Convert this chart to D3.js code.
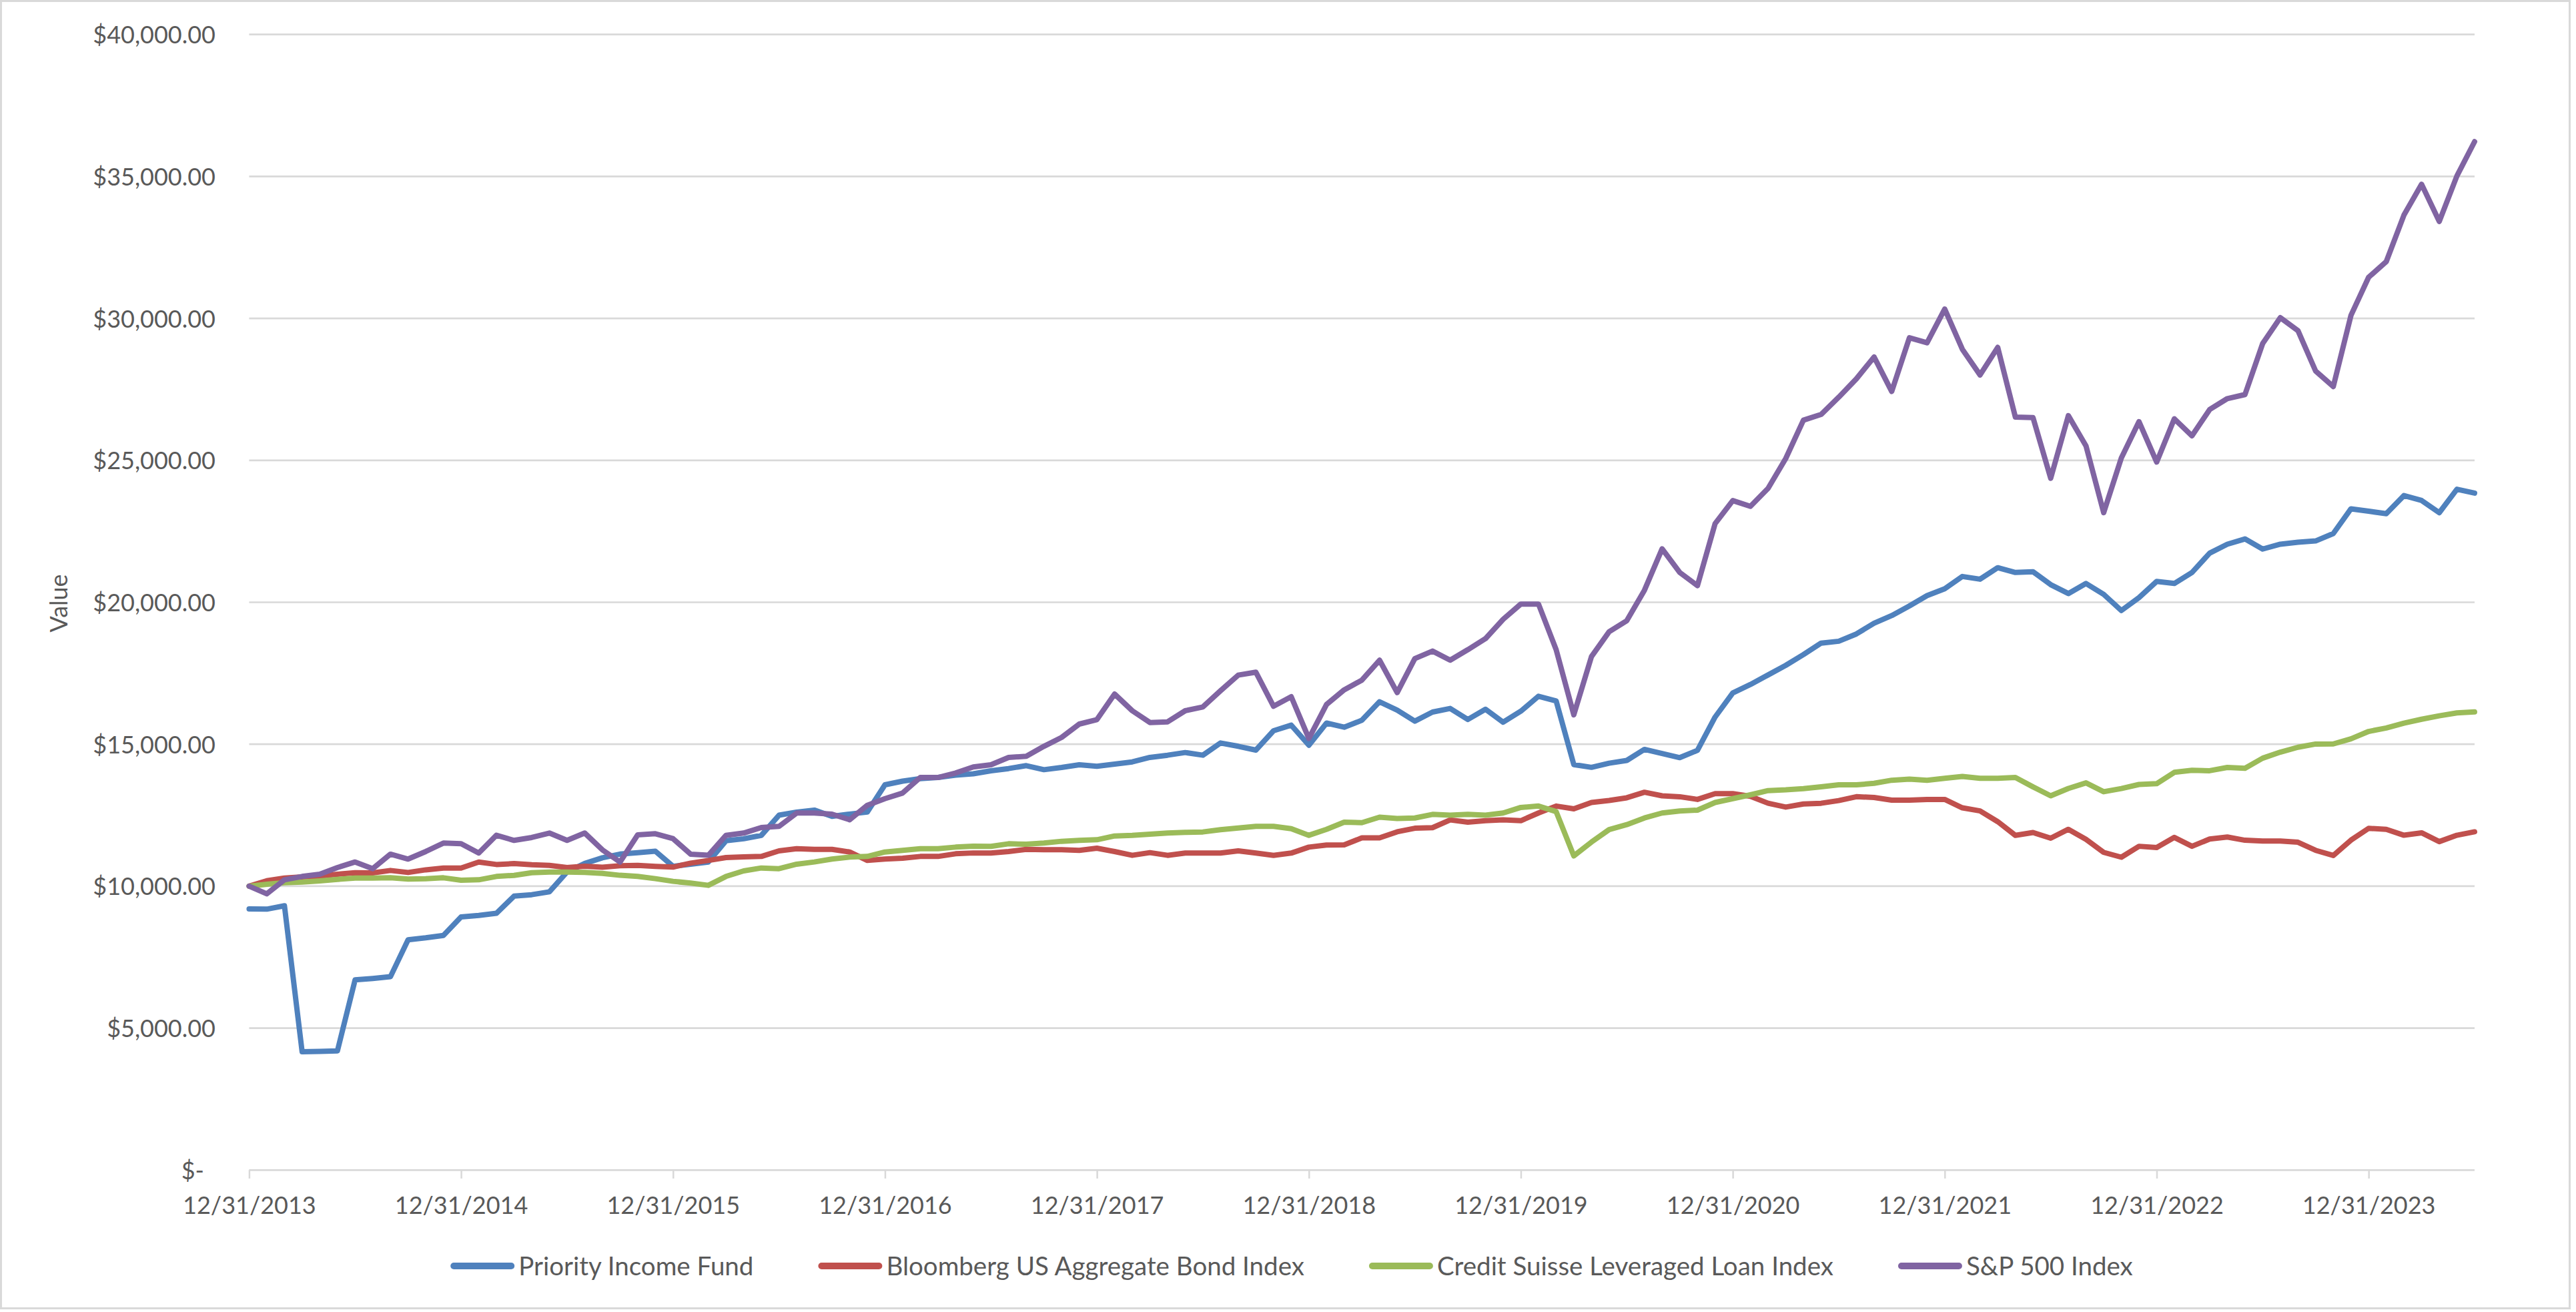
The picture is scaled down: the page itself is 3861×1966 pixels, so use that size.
<!DOCTYPE html>
<html>
<head>
<meta charset="utf-8">
<script src="https://cdn.jsdelivr.net/npm/d3@7"></script>
<style>
html, body { margin: 0; padding: 0; background: #ffffff; }
svg { display: block; }
text { font-family: Lato, "Open Sans", "DejaVu Sans", sans-serif; fill: #595959; }
</style>
</head>
<body>
<svg id="chart" width="3861" height="1966"></svg>
<script>
// ---------------- DATA ----------------
const seriesNames = [
  "Priority Income Fund",
  "Bloomberg US Aggregate Bond Index",
  "Credit Suisse Leveraged Loan Index",
  "S&P 500 Index"
];
const seriesColors = ["#4F81BD", "#C0504D", "#9BBB59", "#8064A2"];

// month-end values, 12/31/2013 .. 6/30/2024
const priorityIncomeFund = [
  9200, 9190, 9310, 4170, 4180, 4200, 6700, 6750, 6810, 8110, 8180, 8265,
  8915, 8970, 9045, 9650, 9700, 9800, 10500, 10800, 11000, 11130, 11180, 11230,
  10700, 10775, 10850, 11600, 11670, 11790, 12500, 12610, 12680, 12460, 12540, 12610,
  13570, 13700, 13790, 13830, 13910, 13960, 14064, 14143, 14245, 14103, 14182, 14276,
  14221, 14299, 14378, 14535, 14613, 14707, 14613, 15044, 14927, 14793, 15475, 15671,
  14966, 15745, 15600, 15843, 16495, 16203, 15813, 16134, 16261, 15872, 16232, 15775,
  16164, 16690, 16524, 14283, 14186, 14332, 14429, 14819, 14673, 14527, 14784, 15957,
  16807, 17104, 17441, 17779, 18156, 18561, 18628, 18885, 19263, 19532, 19870, 20234,
  20477, 20909, 20814, 21219, 21050, 21077, 20621, 20307, 20663, 20279, 19709, 20165,
  20735, 20663, 21049, 21732, 22046, 22231, 21875, 22046, 22117, 22160, 22420, 23293,
  23207, 23121, 23759, 23586, 23155, 23983, 23845
];
const bloombergAgg = [
  10000, 10190, 10286, 10325, 10357, 10420, 10475, 10467, 10553, 10482, 10576, 10639,
  10639, 10850, 10764, 10795, 10756, 10733, 10655, 10702, 10670, 10718, 10734, 10696,
  10671, 10812, 10906, 11008, 11031, 11047, 11243, 11322, 11298, 11298, 11204, 10906,
  10953, 10984, 11047, 11047, 11141, 11170, 11165, 11220, 11298, 11282, 11282, 11259,
  11337, 11220, 11087, 11181, 11087, 11165, 11165, 11165, 11243, 11165, 11087, 11165,
  11376, 11450, 11457, 11700, 11700, 11915, 12041, 12061, 12334, 12256, 12305, 12334,
  12305, 12578, 12822, 12724, 12948, 13017, 13114, 13309, 13182, 13150, 13056, 13259,
  13259, 13164, 12921, 12786, 12894, 12921, 13016, 13151, 13124, 13029, 13029, 13056,
  13056, 12759, 12651, 12273, 11790, 11890, 11690, 12003, 11647, 11191, 11020, 11405,
  11362, 11718, 11405, 11661, 11732, 11618, 11590, 11590, 11547, 11262, 11080, 11622,
  12036, 12001, 11794, 11880, 11570, 11794, 11915
];
const creditSuisseLoan = [
  10000, 10067, 10122, 10146, 10185, 10240, 10287, 10287, 10295, 10248, 10264, 10295,
  10209, 10224, 10342, 10381, 10475, 10499, 10499, 10483, 10450, 10383, 10343, 10265,
  10171, 10108, 10030, 10343, 10539, 10641, 10617, 10775, 10853, 10955, 11025, 11047,
  11204, 11259, 11322, 11322, 11376, 11410, 11401, 11494, 11479, 11518, 11581, 11612,
  11635, 11769, 11792, 11832, 11871, 11894, 11910, 11988, 12051, 12106, 12106, 12027,
  11792, 12000, 12256, 12237, 12432, 12383, 12402, 12529, 12500, 12529, 12500, 12578,
  12773, 12822, 12627, 11067, 11554, 11993, 12168, 12402, 12578, 12650, 12677, 12948,
  13083, 13218, 13366, 13393, 13434, 13501, 13569, 13569, 13623, 13731, 13771, 13731,
  13798, 13866, 13798, 13798, 13830, 13497, 13184, 13440, 13639, 13326, 13440, 13582,
  13611, 14010, 14081, 14067, 14181, 14152, 14508, 14722, 14893, 15007, 15010, 15191,
  15450, 15571, 15743, 15881, 16002, 16105, 16140
];
const sp500 = [
  10000, 9730, 10225, 10343, 10421, 10656, 10852, 10617, 11127, 10955, 11221, 11519,
  11496, 11167, 11793, 11613, 11715, 11872, 11613, 11872, 11280, 10851, 11808, 11847,
  11674, 11126, 11088, 11792, 11871, 12066, 12105, 12575, 12575, 12536, 12340, 12849,
  13084, 13280, 13829, 13829, 13986, 14200, 14276, 14535, 14574, 14927, 15240, 15710,
  15867, 16768, 16180, 15765, 15788, 16180, 16314, 16886, 17434, 17536, 16337, 16674,
  15201, 16400, 16916, 17258, 17960, 16819, 18018, 18281, 17960, 18330, 18720, 19402,
  19938, 19938, 18330, 16037, 18086, 18963, 19353, 20425, 21885, 21050, 20585, 22772,
  23581, 23379, 24013, 25066, 26415, 26617, 27224, 27872, 28641, 27427, 29316, 29141,
  30329, 28911, 28007, 28979, 26523, 26505, 24368, 26576, 25508, 23157, 25081, 26363,
  24939, 26463, 25864, 26790, 27175, 27317, 29113, 30025, 29569, 28145, 27600, 30104,
  31449, 32001, 33639, 34725, 33415, 35018, 36225
];
const xTickLabels = [
  "12/31/2013", "12/31/2014", "12/31/2015", "12/31/2016", "12/31/2017", "12/31/2018",
  "12/31/2019", "12/31/2020", "12/31/2021", "12/31/2022", "12/31/2023"
];
const yTickValues = [0, 5000, 10000, 15000, 20000, 25000, 30000, 35000, 40000];
const yTickLabels = [
  "$-", "$5,000.00", "$10,000.00", "$15,000.00", "$20,000.00",
  "$25,000.00", "$30,000.00", "$35,000.00", "$40,000.00"
];
const yAxisTitle = "Value";

// ---------------- LAYOUT ----------------
const W = 3861, H = 1966;
const plot = { left: 373.4, right: 3709, top: 51.7, bottom: 1753.3 };
const gridColor = "#D9D9D9";
const fontSize = 36;
const legendFontSize = 38.5;

const svg = d3.select("#chart");

// chart border
svg.append("rect")
  .attr("x", 1.5).attr("y", 1.5)
  .attr("width", 3850).attr("height", 1959)
  .attr("fill", "#ffffff")
  .attr("stroke", gridColor).attr("stroke-width", 3);

// categories (month ends)
const months = d3.utcMonth.range(new Date(Date.UTC(2013, 11, 1)), new Date(Date.UTC(2024, 6, 1)));
const monthKeys = months.map(d => d3.utcFormat("%Y-%m")(d));

const x = d3.scalePoint().domain(monthKeys).range([plot.left, plot.right]);
const y = d3.scaleLinear().domain([0, 40000]).range([plot.bottom, plot.top]);

// gridlines
svg.append("g")
  .selectAll("line")
  .data(yTickValues.filter(v => v > 0))
  .join("line")
  .attr("x1", plot.left).attr("x2", plot.right)
  .attr("y1", d => y(d)).attr("y2", d => y(d))
  .attr("stroke", gridColor).attr("stroke-width", 2.7);

// y axis labels
const yAxis = d3.axisLeft(y)
  .tickValues(yTickValues)
  .tickSize(0)
  .tickPadding(0)
  .tickFormat((d, i) => yTickLabels[i]);
const yG = svg.append("g")
  .attr("transform", `translate(323,0)`)
  .call(yAxis);
yG.select(".domain").remove();
yG.selectAll("text")
  .attr("font-size", fontSize)
  .attr("font-family", null)
  .attr("fill", "#595959")
  .attr("dy", "0.36em")
  .attr("x", (d) => d === 0 ? -17 : 0);

// x axis
const tickKeys = monthKeys.filter((k, i) => i % 12 === 0);
const xAxis = d3.axisBottom(x)
  .tickValues(tickKeys)
  .tickSize(12.7)
  .tickSizeOuter(0)
  .tickPadding(0)
  .tickFormat((d, i) => xTickLabels[i]);
const xG = svg.append("g")
  .attr("transform", `translate(0,${plot.bottom})`)
  .call(xAxis);
xG.select(".domain")
  .attr("stroke", gridColor).attr("stroke-width", 2.7)
  .attr("d", `M${plot.left},0H${plot.right}`);
xG.selectAll(".tick line").attr("stroke", gridColor).attr("stroke-width", 2.5);
xG.selectAll(".tick text")
  .attr("font-size", fontSize)
  .attr("font-family", null)
  .attr("fill", "#595959")
  .attr("y", 0)
  .attr("dy", null)
  .attr("transform", "translate(0,65.7)");

// y axis title
svg.append("text")
  .attr("transform", "translate(101,904) rotate(-90)")
  .attr("text-anchor", "middle")
  .attr("font-size", fontSize)
  .text(yAxisTitle);

// lines
const allSeries = [priorityIncomeFund, bloombergAgg, creditSuisseLoan, sp500];
const line = d3.line()
  .x((d, i) => x(monthKeys[i]))
  .y(d => y(d));

svg.append("g")
  .selectAll("path")
  .data(allSeries)
  .join("path")
  .attr("d", d => line(d))
  .attr("fill", "none")
  .attr("stroke", (d, i) => seriesColors[i])
  .attr("stroke-width", 8)
  .attr("stroke-linejoin", "round")
  .attr("stroke-linecap", "round");

// legend
const legendY = 1897;
const swatchLen = 96, swatchGap = 6, itemGap = 97;
const legend = svg.append("g");
const items = legend.selectAll("g")
  .data(seriesNames)
  .join("g");
items.append("line")
  .attr("x1", 5).attr("x2", swatchLen - 5)
  .attr("y1", legendY).attr("y2", legendY)
  .attr("stroke", (d, i) => seriesColors[i])
  .attr("stroke-width", 10)
  .attr("stroke-linecap", "round");
items.append("text")
  .attr("x", swatchLen + swatchGap)
  .attr("y", legendY)
  .attr("dy", "0.36em")
  .attr("font-size", legendFontSize)
  .text(d => d);
const widths = [];
items.each(function () {
  widths.push(swatchLen + swatchGap + d3.select(this).select("text").node().getComputedTextLength());
});
const total = d3.sum(widths) + itemGap * (widths.length - 1);
let cx = 1936 - total / 2;
items.each(function (d, i) {
  d3.select(this).attr("transform", `translate(${cx},0)`);
  cx += widths[i] + itemGap;
});
</script>
</body>
</html>
